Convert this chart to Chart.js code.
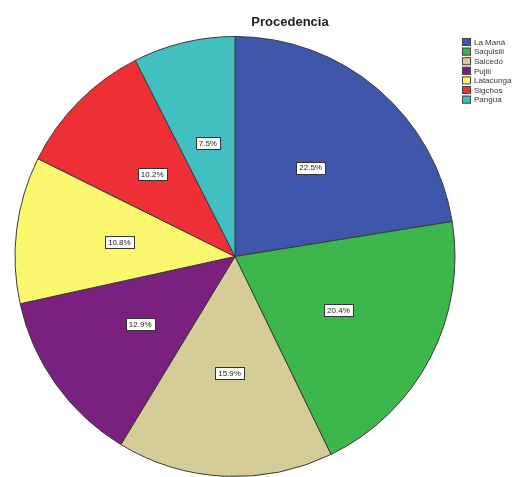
<!DOCTYPE html>
<html>
<head>
<meta charset="utf-8">
<script src="https://cdn.jsdelivr.net/npm/chart.js@4.4.1/dist/chart.umd.min.js"></script>
<style>
  html, body { margin: 0; padding: 0; background: #fff; }
  #wrap { width: 525px; height: 477px; position: relative; }
</style>
</head>
<body>
<div id="wrap"><canvas id="pie"></canvas></div>
<script>
const categories = ['La Maná', 'Saquisilí', 'Salcedo', 'Pujilí', 'Latacunga', 'Sigchos', 'Pangua']
const percents = [22.5, 20.4, 15.9, 12.9, 10.8, 10.2, 7.5]
const sliceColors = ['#3f57ab', '#3db64b', '#d5cc97', '#7a2180', '#fbf76e', '#ee2f36', '#42bfc1']
const chartTitle = 'Procedencia'

// white boxed percentage labels inside each slice
const sliceLabels = {
    id: 'sliceLabels',
    afterDatasetsDraw(chart) {
        const ctx = chart.ctx
        const meta = chart.getDatasetMeta(0)
        ctx.save()
        ctx.font = '8px "Liberation Sans", Arial, sans-serif'
        ctx.textAlign = 'center'
        ctx.textBaseline = 'middle'
        meta.data.forEach((arc, i) => {
            const p = arc.getProps(['x', 'y', 'startAngle', 'endAngle', 'outerRadius'], true)
            const mid = (p.startAngle + p.endAngle) / 2
            const r = p.outerRadius * 0.53
            const x = p.x + Math.cos(mid) * r
            const y = p.y + Math.sin(mid) * r
            const txt = percents[i].toFixed(1) + '%'
            const w = Math.round(ctx.measureText(txt).width + 6)
            const bx = Math.round(x - w / 2) + 0.5
            const by = Math.round(y - 6) + 0.5
            ctx.fillStyle = '#fff'
            ctx.fillRect(bx, by, w, 12)
            ctx.strokeStyle = '#333'
            ctx.lineWidth = 1
            ctx.strokeRect(bx, by, w, 12)
            ctx.fillStyle = '#222'
            ctx.fillText(txt, x, y + 0.5)
        })
        ctx.restore()
    }
}

// title and small legend at the top right, like the SPSS output
const titleAndLegend = {
    id: 'titleAndLegend',
    afterDraw(chart) {
        const ctx = chart.ctx
        ctx.save()
        ctx.font = 'bold 13px "Liberation Sans", Arial, sans-serif'
        ctx.fillStyle = '#222'
        ctx.textAlign = 'center'
        ctx.textBaseline = 'middle'
        ctx.fillText(chartTitle, 290, 22)

        ctx.font = '8px "Liberation Sans", Arial, sans-serif'
        ctx.textAlign = 'left'
        categories.forEach((c, i) => {
            const y = 38 + i * 9.6
            ctx.fillStyle = sliceColors[i]
            ctx.fillRect(462, y, 9, 8)
            ctx.strokeStyle = '#444'
            ctx.strokeRect(462.5, y + 0.5, 8, 7)
            ctx.fillStyle = '#333'
            ctx.fillText(c, 474, y + 4.5)
        })
        ctx.restore()
    }
}

new Chart(document.getElementById('pie'), {
    type: 'pie',
    data: {
        labels: categories,
        datasets: [{
            data: percents,
            backgroundColor: sliceColors,
            borderColor: '#3a3a3a',
            borderWidth: 1
        }]
    },
    options: {
        responsive: true,
        maintainAspectRatio: false,
        animation: false,
        layout: { padding: { left: 14, right: 69, top: 36, bottom: 0 } },
        plugins: {
            legend: { display: false },
            title: { display: false },
            tooltip: { enabled: false }
        }
    },
    plugins: [sliceLabels, titleAndLegend]
})
</script>
</body>
</html>
